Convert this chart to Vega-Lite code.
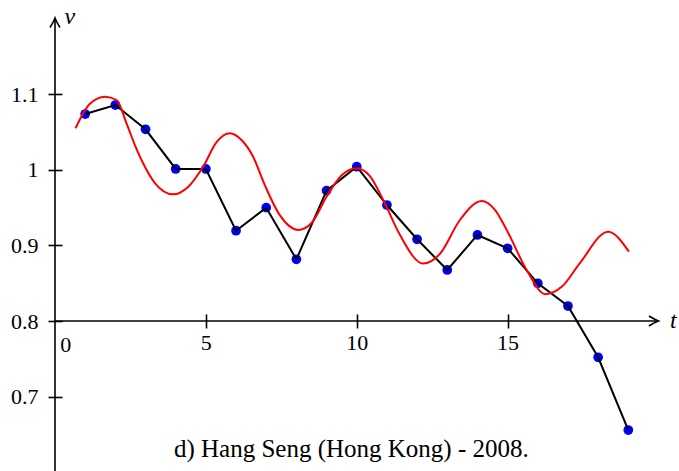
{
  "$schema": "https://vega.github.io/schema/vega-lite/v6.json",
  "width": 624,
  "height": 471,
  "autosize": {"type": "none"},
  "padding": {"left": 55, "top": 0, "right": 0, "bottom": 0},
  "background": "white",
  "config": {"view": {"stroke": null}, "font": "Liberation Serif"},
  "datasets": {
    "obs": [
      {"t": 1, "v": 1.0738}, {"t": 2, "v": 1.0857}, {"t": 3, "v": 1.0536}, {"t": 4, "v": 1.0011},
      {"t": 5, "v": 1.0011}, {"t": 6, "v": 0.9194}, {"t": 7, "v": 0.9499}, {"t": 8, "v": 0.8816},
      {"t": 9, "v": 0.9724}, {"t": 10, "v": 1.0041}, {"t": 11, "v": 0.9534}, {"t": 12, "v": 0.9081},
      {"t": 13, "v": 0.8675}, {"t": 14, "v": 0.9138}, {"t": 15, "v": 0.8962}, {"t": 16, "v": 0.8499},
      {"t": 17, "v": 0.8198}, {"t": 18, "v": 0.752}, {"t": 19, "v": 0.6558}
    ],
    "fit": [
      {"t": 0.68, "v": 1.0549}, {"t": 1.15, "v": 1.087}, {"t": 1.654, "v": 1.0967}, {"t": 2.05, "v": 1.092},
      {"t": 2.37, "v": 1.0615}, {"t": 2.645, "v": 1.033}, {"t": 2.92, "v": 1.0086}, {"t": 3.31, "v": 0.9825},
      {"t": 3.915, "v": 0.9676}, {"t": 4.4, "v": 0.977}, {"t": 4.91, "v": 1.0041}, {"t": 5.36, "v": 1.0368},
      {"t": 5.794, "v": 1.0483}, {"t": 6.19, "v": 1.039}, {"t": 6.566, "v": 1.0173}, {"t": 6.95, "v": 0.98},
      {"t": 7.45, "v": 0.94}, {"t": 8.06, "v": 0.9204}, {"t": 8.51, "v": 0.93}, {"t": 9.0, "v": 0.9644},
      {"t": 9.51, "v": 0.993}, {"t": 9.99, "v": 1.002}, {"t": 10.43, "v": 0.992}, {"t": 10.93, "v": 0.9557},
      {"t": 11.43, "v": 0.914}, {"t": 12.2, "v": 0.876}, {"t": 12.76, "v": 0.889}, {"t": 13.42, "v": 0.9336},
      {"t": 14.14, "v": 0.9587}, {"t": 14.58, "v": 0.947}, {"t": 14.97, "v": 0.9204}, {"t": 15.63, "v": 0.8675},
      {"t": 16.25, "v": 0.8355}, {"t": 16.8, "v": 0.8455}, {"t": 17.39, "v": 0.8763}, {"t": 18.33, "v": 0.9181},
      {"t": 19.02, "v": 0.8917}
    ]
  },
  "encoding": {
    "x": {"field": "t", "type": "quantitative", "scale": {"domain": [0, 20.68], "nice": false, "zero": false},
      "axis": {"orient": "bottom", "offset": -157, "values": [5, 10, 15], "domain": false, "grid": false, "tickSize": 14, "tickWidth": 1.6, "tickColor": "black", "labelFontSize": 22, "labelColor": "black", "labelPadding": 4, "labelFont": "Liberation Serif", "title": null}},
    "y": {"field": "v", "type": "quantitative", "scale": {"domain": [0.6016, 1.2246], "nice": false, "zero": false},
      "axis": {"orient": "left", "offset": -7, "values": [0.7, 0.8, 0.9, 1, 1.1], "format": "~g", "domain": false, "grid": false, "tickSize": 14, "tickWidth": 1.6, "tickColor": "black", "labelFontSize": 22, "labelColor": "black", "labelPadding": 10, "labelFont": "Liberation Serif", "title": null}}
  },
  "layer": [
    {
      "data": {"values": [{"t": 0, "v": 0.6016, "v2": 1.199}]},
      "mark": {"type": "rule", "color": "black", "strokeWidth": 1.6},
      "encoding": {"y2": {"field": "v2"}}
    },
    {
      "data": {"values": [{"t": 0, "v": 0.8, "t2": 19.97}]},
      "mark": {"type": "rule", "color": "black", "strokeWidth": 1.6},
      "encoding": {"x2": {"field": "t2"}}
    },
    {
      "data": {"values": [{"t": 20.0, "v": 0.8}]},
      "mark": {"type": "point", "shape": "M -1.9 -1 Q -0.7 -0.25 0 0 Q -0.7 0.25 -1.9 1", "filled": false, "size": 100, "stroke": "black", "strokeWidth": 1.6, "opacity": 1}
    },
    {
      "data": {"values": [{"t": 0, "v": 1.2008}]},
      "mark": {"type": "point", "shape": "M -1 1.9 Q -0.25 0.7 0 0 Q 0.25 0.7 1 1.9", "filled": false, "size": 100, "stroke": "black", "strokeWidth": 1.6, "opacity": 1}
    },
    {
      "data": {"name": "obs"},
      "mark": {"type": "point", "filled": true, "color": "#0000ff", "size": 95, "opacity": 1}
    },
    {
      "data": {"name": "obs"},
      "mark": {"type": "line", "color": "black", "strokeWidth": 2}
    },
    {
      "data": {"name": "fit"},
      "mark": {"type": "line", "color": "#ff0000", "strokeWidth": 2, "interpolate": "monotone"}
    },
    {
      "data": {"values": [{"t": 0.358, "v": 0.759, "label": "0"}]},
      "mark": {"type": "text", "fontSize": 22, "font": "Liberation Serif", "align": "center", "baseline": "alphabetic", "color": "black"},
      "encoding": {"text": {"field": "label"}}
    },
    {
      "data": {"values": [{"t": 0.49, "v": 1.1929, "label": "v"}, {"t": 20.49, "v": 0.7907, "label": "t"}]},
      "mark": {"type": "text", "fontSize": 24, "font": "Liberation Serif", "fontStyle": "italic", "align": "center", "baseline": "alphabetic", "color": "black"},
      "encoding": {"text": {"field": "label"}}
    },
    {
      "data": {"values": [{"t": 9.82, "v": 0.6201, "label": "d) Hang Seng (Hong Kong) - 2008."}]},
      "mark": {"type": "text", "fontSize": 25, "font": "Liberation Serif", "align": "center", "baseline": "alphabetic", "color": "black"},
      "encoding": {"text": {"field": "label"}}
    }
  ]
}
